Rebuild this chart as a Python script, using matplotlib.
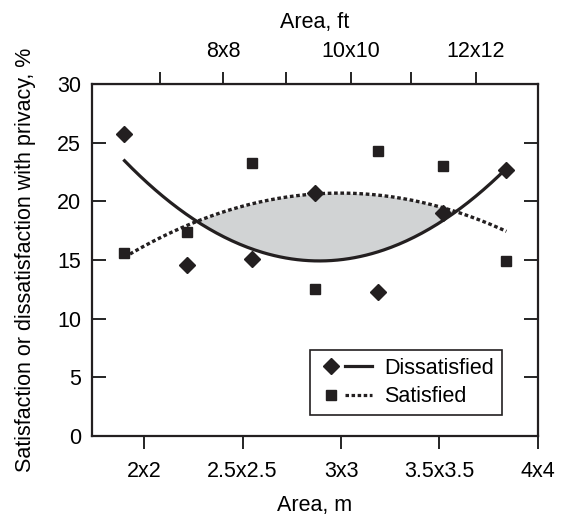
import numpy as np
import matplotlib
matplotlib.use('Agg')
import matplotlib.pyplot as plt
from matplotlib.lines import Line2D
from matplotlib.legend_handler import HandlerTuple

plt.rcParams['font.family'] = ['Liberation Sans', 'DejaVu Sans']
plt.rcParams['font.size'] = 15.5

# room side length in m
area = [1.90, 2.22, 2.55, 2.87, 3.19, 3.52, 3.84]
dissatisfied = [25.7, 14.6, 15.1, 20.7, 12.3, 19.0, 22.65]
satisfied = [15.6, 17.4, 23.3, 12.5, 24.3, 23.0, 14.95]

m_ticks = [2.0, 2.5, 3.0, 3.5, 4.0]
m_labels = ['2x2', '2.5x2.5', '3x3', '3.5x3.5', '4x4']
ft_ticks = [2.08, 2.40, 2.72, 3.05, 3.355, 3.685]
ft_labels = ['', '8x8', '', '10x10', '', '12x12']

fig = plt.figure(figsize=(5.68, 5.18), dpi=100)
ax = fig.add_axes([0.162, 0.158, 0.785, 0.68])

# quadratic trend lines through each series
xs = np.linspace(area[0], area[-1], 200)
fit_d = np.polyval(np.polyfit(area, dissatisfied, 2), xs)
fit_s = np.polyval(np.polyfit(area, satisfied, 2), xs)

ax.fill_between(xs, fit_d, fit_s, where=fit_s > fit_d, color='#d1d3d4',
  interpolate=True, lw=0, zorder=1)
ax.plot(xs, fit_d, color='#231f20', lw=2.3, zorder=2)
ax.plot(xs, fit_s, color='#231f20', lw=2.4, ls=(0, (1.1, 0.8)),
  dash_capstyle='butt', zorder=2)
ax.plot(area, dissatisfied, 'D', color='#231f20', ms=8, lw=0, zorder=3)
ax.plot(area, satisfied, 's', color='#231f20', ms=7.5, lw=0, zorder=3)

ax.set_xlim(1.735, 4.0)
ax.set_ylim(0, 30)
ax.set_xticks(m_ticks)
ax.set_xticklabels(m_labels)
ax.set_yticks(range(0, 31, 5))
ax.tick_params(axis='y', direction='in', length=10, width=1.2, right=True,
  pad=8)
ax.tick_params(axis='x', direction='out', length=9, width=1.2, pad=9)
for s in ax.spines.values():
  s.set_linewidth(1.6)
  s.set_color('#231f20')
ax.set_xlabel('Area, m', labelpad=9)
ax.set_ylabel('Satisfaction or dissatisfaction with privacy, %', labelpad=15)

top = ax.secondary_xaxis('top')
top.set_xticks(ft_ticks)
top.set_xticklabels(ft_labels)
top.tick_params(direction='out', length=9, width=1.2, pad=7)
top.set_xlabel('Area, ft', labelpad=9)

h_d = (Line2D([], [], marker='D', color='#231f20', ms=8, lw=0),
  Line2D([], [], color='#231f20', lw=2.3))
h_s = (Line2D([], [], marker='s', color='#231f20', ms=7.5, lw=0),
  Line2D([], [], color='#231f20', lw=2.3, ls=(0, (1.1, 0.8))))
leg = ax.legend([h_d, h_s], ['Dissatisfied', 'Satisfied'],
  handler_map={tuple: HandlerTuple(ndivide=None, pad=0.0)},
  loc='lower right', bbox_to_anchor=(0.919, 0.06), borderaxespad=0,
  handlelength=2.5, fancybox=False, framealpha=1, edgecolor='#231f20',
  borderpad=0.35, labelspacing=0.35, handletextpad=0.6)
leg.get_frame().set_linewidth(1.2)

fig.savefig('out.png', dpi=100)
